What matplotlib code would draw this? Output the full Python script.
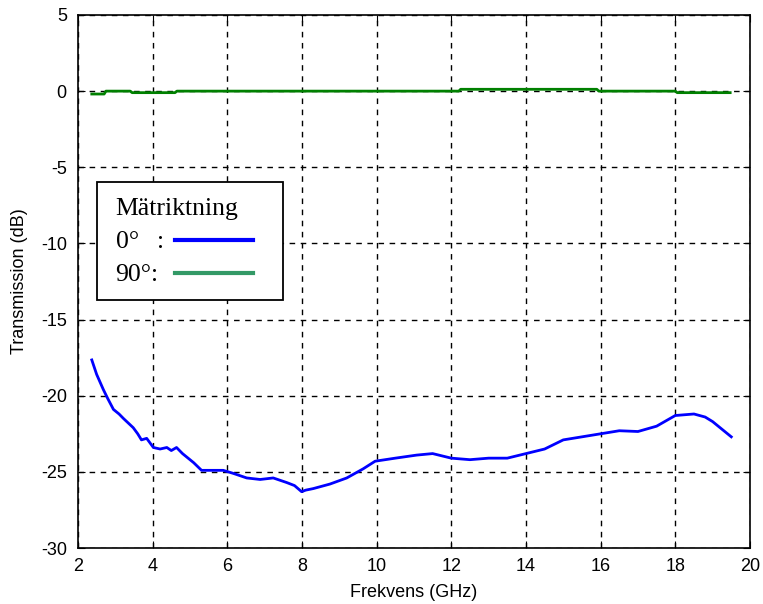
import matplotlib.pyplot as plt
from matplotlib import font_manager
from matplotlib.lines import Line2D
from matplotlib.patches import Rectangle

# 0 degree measurement direction (blue)
freq_0 = [2.37, 2.5, 2.68, 2.8, 2.95, 3.1, 3.22, 3.35, 3.48, 3.6, 3.7, 3.84, 4.02,
          4.2, 4.38, 4.5, 4.64, 4.8, 4.9, 5.1, 5.31, 5.6, 5.89, 6.16, 6.52, 6.88,
          7.23, 7.59, 7.8, 7.99, 8.1, 8.3, 8.75, 9.2, 9.64, 9.96, 10.5, 11.07,
          11.5, 12.0, 12.5, 13.0, 13.5, 14.0, 14.5, 15.0, 15.5, 16.0, 16.5, 17.0,
          17.5, 18.0, 18.5, 18.8, 19.0, 19.3, 19.5]
trans_0 = [-17.65, -18.6, -19.6, -20.2, -20.9, -21.2, -21.5, -21.8, -22.1, -22.5,
           -22.9, -22.8, -23.4, -23.5, -23.4, -23.6, -23.4, -23.8, -24.0, -24.4,
           -24.9, -24.9, -24.9, -25.1, -25.4, -25.5, -25.4, -25.7, -25.9, -26.3,
           -26.2, -26.1, -25.8, -25.4, -24.8, -24.3, -24.1, -23.9, -23.8, -24.1,
           -24.2, -24.1, -24.1, -23.8, -23.5, -22.9, -22.7, -22.5, -22.3, -22.35,
           -22.0, -21.3, -21.2, -21.4, -21.7, -22.3, -22.7]

# 90 degree measurement direction (green)
freq_90 = [2.37, 2.7, 2.75, 3.4, 3.45, 4.6, 4.65, 12.2, 12.25, 15.9, 15.95, 18.0,
           18.05, 19.47]
trans_90 = [-0.19, -0.19, 0.0, 0.0, -0.1, -0.1, 0.0, 0.0, 0.12, 0.12, 0.0, 0.0,
            -0.1, -0.1]

x_ticks = list(range(2, 21, 2))
y_ticks = list(range(-30, 6, 5))

names = {f.name for f in font_manager.fontManager.ttflist}
sans = "Liberation Sans Narrow" if "Liberation Sans Narrow" in names else "Liberation Sans"
plt.rcParams["font.family"] = sans
plt.rcParams["axes.unicode_minus"] = False

fig = plt.figure(figsize=(7.63, 6.04), dpi=100)
ax = fig.add_axes([0.1022, 0.0927, 0.8807, 0.8825])

ax.plot(freq_0, trans_0, color="#0000ff", linewidth=2.0, zorder=3)
ax.plot(freq_90, trans_90, color="#008000", linewidth=2.0, zorder=3)

ax.set_xlim(2, 20)
ax.set_ylim(-30, 5)
ax.set_xticks(x_ticks)
ax.set_yticks(y_ticks)
ax.tick_params(direction="in", top=True, right=True, length=5, labelsize=13)
ax.tick_params(axis="x", pad=7)
ax.tick_params(axis="y", pad=8)
ax.grid(True, color="black", linestyle=(0, (4, 4)), linewidth=1.0)
for s in ax.spines.values():
    s.set_linewidth(1.2)

ax.set_xlabel("Frekvens (GHz)", fontsize=13, labelpad=7)
ax.set_ylabel("Transmission (dB)", fontsize=13, labelpad=9)

# legend box, drawn like the original
box = Rectangle((0.0283, 0.465), 0.277, 0.222, transform=ax.transAxes,
                facecolor="white", edgecolor="black", linewidth=1.3, zorder=5)
ax.add_patch(box)
serif = dict(family="Liberation Serif", fontsize=18.5, color="black", zorder=6,
             transform=ax.transAxes)
ax.text(0.056, 0.636, "Mätriktning", va="center", ha="left", **serif)
ax.text(0.056, 0.574, "0°", va="center", ha="left", **serif)
ax.text(0.117, 0.574, ":", va="center", ha="left", **serif)
ax.text(0.056, 0.513, "90°:", va="center", ha="left", **serif)
ax.add_line(Line2D([0.145, 0.261], [0.578, 0.578], color="#0000ff", linewidth=3,
                   transform=ax.transAxes, zorder=6))
ax.add_line(Line2D([0.145, 0.261], [0.516, 0.516], color="#339966", linewidth=3,
                   transform=ax.transAxes, zorder=6))

fig.savefig("out.png", dpi=100)
